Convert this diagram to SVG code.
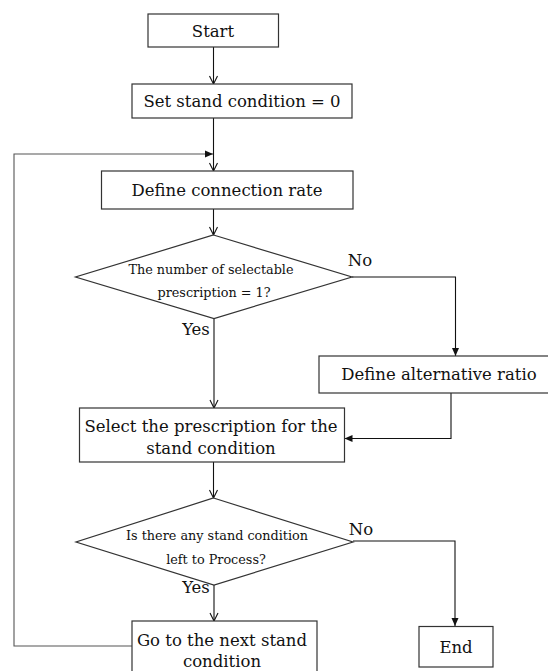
<svg xmlns="http://www.w3.org/2000/svg" width="548" height="671" viewBox="0 0 548 671">
<style>
.box{fill:#fff;stroke:#333;stroke-width:1.2}
.t{font-family:"DejaVu Serif","Liberation Serif",serif;font-size:16.5px;fill:#111;text-anchor:middle;dominant-baseline:central}
.s{font-size:12.8px}
.c{fill:none;stroke:#111;stroke-width:1.1}
.g{stroke:#555}
</style>
<defs>
<marker id="open" markerWidth="10" markerHeight="10" refX="9" refY="5" orient="auto" markerUnits="userSpaceOnUse" viewBox="0 0 10 10"><path d="M1,1 L9,5 L1,9" fill="none" stroke="#111" stroke-width="1.1"/></marker>
<marker id="fill" markerWidth="10" markerHeight="10" refX="9" refY="5" orient="auto" markerUnits="userSpaceOnUse" viewBox="0 0 10 10"><path d="M1,1.5 L9,5 L1,8.5 Z" fill="#111"/></marker>
</defs>
<rect width="548" height="671" fill="#fff"/>
<g id="connectors">
<path class="c" d="M213.5,47 V84" marker-end="url(#open)"/>
<path class="c" d="M213.5,118 V171" marker-end="url(#open)"/>
<path class="c g" d="M132,646 H14 V154 H213" marker-end="url(#fill)"/>
<path class="c" d="M213.5,209 V235" marker-end="url(#open)"/>
<path class="c" d="M352,277 H455.5 V356" marker-end="url(#fill)"/>
<path class="c" d="M214,318 V408" marker-end="url(#open)"/>
<path class="c" d="M451,393 V438.5 H344.5" marker-end="url(#fill)"/>
<path class="c" d="M213.5,462 V498" marker-end="url(#open)"/>
<path class="c" d="M353,541 H455 V626" marker-end="url(#fill)"/>
<path class="c" d="M214,585 V621" marker-end="url(#open)"/>
<text class="t" x="360" y="260">No</text>
<text class="t" x="196" y="329">Yes</text>
<text class="t" x="361" y="529">No</text>
<text class="t" x="196" y="587">Yes</text>
</g>
<g id="start"><rect class="box" x="148" y="14" width="130.5" height="33"/><text class="t" x="213" y="31">Start</text></g>
<g id="set"><rect class="box" x="132" y="84" width="220" height="34"/><text class="t" x="242" y="101">Set stand condition = 0</text></g>
<g id="define"><rect class="box" x="101.5" y="171" width="251.5" height="38"/><text class="t" x="227" y="190">Define connection rate</text></g>
<g id="decision1"><polygon class="box" points="213.5,235 352,277 214,318.5 75.5,277"/><text class="t s" x="211" y="269">The number of selectable</text><text class="t s" x="214" y="292">prescription = 1?</text></g>
<g id="alt"><rect class="box" x="319" y="356" width="230" height="37"/><text class="t" x="439" y="374">Define alternative ratio</text></g>
<g id="select"><rect class="box" x="79.5" y="408" width="265" height="54"/><text class="t" x="211" y="426">Select the prescription for the</text><text class="t" x="211" y="448">stand condition</text></g>
<g id="decision2"><polygon class="box" points="213.5,498 353,542 214,585 76,542"/><text class="t s" x="217" y="535">Is there any stand condition</text><text class="t s" x="216" y="559">left to Process?</text></g>
<g id="next"><rect class="box" x="132" y="621" width="185" height="60"/><text class="t" x="222" y="640">Go to the next stand</text><text class="t" x="222" y="661">condition</text></g>
<g id="end"><rect class="box" x="419" y="626.5" width="74" height="40.5"/><text class="t" x="456" y="647">End</text></g>
</svg>
